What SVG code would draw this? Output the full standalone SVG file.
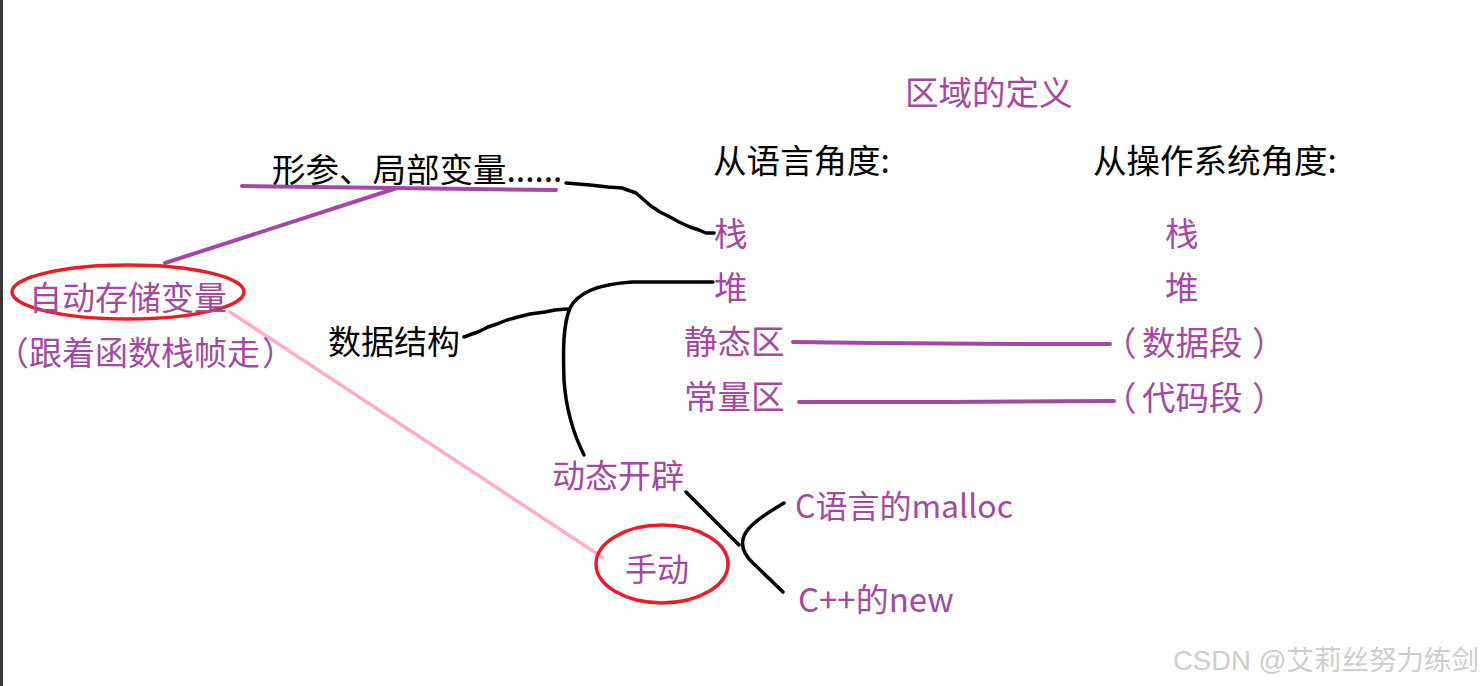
<svg xmlns="http://www.w3.org/2000/svg" width="1482" height="686" viewBox="0 0 1482 686">
<style>
text{font-family:"Noto Sans CJK SC","Noto Sans",sans-serif;font-size:33.5px}
.p{fill:#a349a4}
.k{fill:#000}
.pa{font-feature-settings:"palt"}
.pl{stroke:#a349a4;stroke-width:4;fill:none;stroke-linecap:round;stroke-linejoin:round}
.bl{stroke:#000;stroke-width:3.5;fill:none;stroke-linecap:round;stroke-linejoin:round}
.rd{stroke:#ed1c24;stroke-width:3.5;fill:none}
.pk{stroke:#ffaec9;stroke-width:3.5;fill:none;stroke-linecap:round}
.wm{font-family:"Liberation Sans","Noto Sans CJK SC",sans-serif;font-size:27.5px;fill:#cdcdcd}
</style>
<rect x="0" y="0" width="1482" height="686" fill="#fff"/>
<rect x="0" y="0" width="3" height="686" fill="#3a3a3a"/>
<g id="connectors">
<path class="pl" d="M242,186 L556,190"/>
<path class="pl" d="M397,188 L165,263"/>
<path class="pk" d="M230,312 L602,557"/>
<path class="bl" d="M566,183 L590,185 L608,187 L622,188 L636,193 L644,200 L651,206 L660,212 L670,217 L679,222 L690,227 L699,230 L706,233 L714,233"/>
<path class="bl" d="M713,282 L632,282 C600,284 578,292 570,308 C563,325 563,350 564,380 C566,410 574,435 584,455"/>
<path class="bl" d="M464,337 L472,334 L478,332 L488,327 L497,324 L507,320 L518,317 L530,314 L545,312 L555,310 L567,309"/>
<path class="bl" d="M686,492 L739,545"/>
<path class="bl" d="M784,503 C762,516 748,526 744,536 C740,546 744,555 754,564 L783,592"/>
<path class="pl" d="M793,342 L873,343 L1030,344 L1110,344"/>
<path class="pl" d="M799,402 L950,402 L1114,401"/>
</g>
<g id="title"><text class="p" x="905" y="105">区域的定义</text></g>
<g id="lang-header"><text class="k" x="713" y="173">从语言角度:</text></g>
<g id="os-header"><text class="k" x="1093" y="173">从操作系统角度:</text></g>
<g id="stack-l"><text class="p" x="714" y="246">栈</text></g>
<g id="heap-l"><text class="p" x="714" y="300">堆</text></g>
<g id="static-l"><text class="p" x="684" y="354">静态区</text></g>
<g id="const-l"><text class="p" x="684" y="409">常量区</text></g>
<g id="stack-r"><text class="p" x="1165" y="246">栈</text></g>
<g id="heap-r"><text class="p" x="1165" y="300">堆</text></g>
<g id="data-seg"><text class="p" y="355"><tspan x="1103">（</tspan><tspan x="1142">数据段</tspan><tspan x="1252">）</tspan></text></g>
<g id="code-seg"><text class="p" y="410"><tspan x="1103">（</tspan><tspan x="1142">代码段</tspan><tspan x="1252">）</tspan></text></g>
<g id="params"><text class="k" x="272" y="182">形参、局部变量......</text></g>
<g id="auto-var">
<ellipse class="rd" cx="128" cy="292" rx="116" ry="27"/>
<text class="p" x="29" y="310" style="font-size:33px">自动存储变量</text>
<text class="p" y="365" style="font-size:33px"><tspan class="pa" x="11">（</tspan><tspan x="29">跟着函数栈帧走</tspan><tspan x="262">）</tspan></text>
</g>
<g id="ds"><text class="k" x="328" y="354" style="font-size:33px">数据结构</text></g>
<g id="dyn"><text class="p" x="552" y="488" style="font-size:33px">动态开辟</text></g>
<g id="manual">
<ellipse class="rd" cx="662" cy="564" rx="66" ry="39"/>
<text class="p" x="625" y="581" style="font-size:32px">手动</text>
</g>
<g id="malloc"><text class="p" x="795" y="518" style="font-size:32px">C语言的malloc</text></g>
<g id="new"><text class="p" x="798" y="612" style="font-size:33px">C++的new</text></g>
<text class="wm" x="1173" y="670">CSDN @艾莉丝努力练剑</text>
</svg>
